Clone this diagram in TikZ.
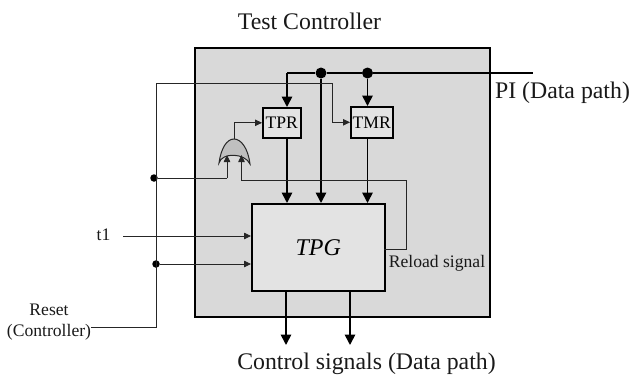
\documentclass[tikz,border=0pt]{standalone}
\usepackage{fontspec}
\setmainfont{Liberation Serif}
\usetikzlibrary{arrows.meta}
\definecolor{outerfill}{gray}{0.85}
\definecolor{innerfill}{gray}{0.89}
\definecolor{gatefill}{gray}{0.75}
\tikzset{
  blockbox/.style={draw=black,line width=1.6pt,inner sep=0pt,anchor=north west},
  busline/.style={draw=black,line width=1.7pt},
  busarrow/.style={busline,-{Triangle[length=10.5pt,width=10.5pt]}},
  wire/.style={draw=black!85,line width=0.8pt},
  wirearrow/.style={wire,-{Triangle[length=7pt,width=6.5pt]}},
  junction/.style={circle,fill=black,inner sep=0pt},
  lbl/.style={inner sep=0pt,text=black!90},
  smalltext/.style={font=\fontsize{17.6}{21.5}\selectfont},
  bigtext/.style={font=\fontsize{23.8}{27}\selectfont}
}
\begin{document}
\begin{tikzpicture}[x=1pt,y=-1pt]
\useasboundingbox (0,0) rectangle (629,375);
\node[blockbox,fill=outerfill,minimum width=295pt,minimum height=269pt] (outer) at (194,47) {};
\node[blockbox,fill=innerfill,minimum width=133pt,minimum height=87pt,font=\fontsize{24}{27}\selectfont\itshape] (tpg) at (251,203) {TPG};
\node[blockbox,fill=innerfill,minimum width=38pt,minimum height=30pt,smalltext] (tpr) at (262,107) {TPR};
\node[blockbox,fill=innerfill,minimum width=42pt,minimum height=31pt,smalltext] (tmr) at (350,106) {TMR};
% named points
\coordinate (pistart) at (287,73);
\node[junction,minimum size=11pt] (j1) at (321,73) {};
\node[junction,minimum size=11pt] (j2) at (367.5,73) {};
\coordinate (piend) at (533,73);
\node[junction,minimum size=7.5pt] (j3) at (154,178) {};
\node[junction,minimum size=7.5pt] (j4) at (156,264) {};
\coordinate (rtop) at (156,83);
\coordinate (rbot) at (156,327);
\coordinate (rc) at (332,83);
\coordinate (orout) at (234,139);
\coordinate (orl) at (227,155);
\coordinate (orr) at (241.5,155);
\coordinate (t1s) at (123,236);
\coordinate (o1s) at (286,290);
\coordinate (o1e) at (286,345);
\coordinate (o2s) at (350,290);
\coordinate (o2e) at (350,345);
\coordinate (rls) at (384,249);
\coordinate (rlc) at (406,249);
\coordinate (rld) at (406,180.5);
\coordinate (a3) at (241.5,180.5);
\coordinate (a1) at (227,178);
% OR gate
\draw[fill=gatefill,draw=black!85,line width=1pt] (219,163) .. controls (221,148) and (227,139) .. (orout) .. controls (241,139) and (248,148) .. (250,164) .. controls (245,153) and (222,152) .. cycle;
% bus
\draw[busline] (pistart) -- (j1) -- (j2) -- (piend);
\draw[busarrow] (pistart) -- (tpr.north -| pistart);
\draw[busarrow] (j1) -- (tpg.north -| j1);
\draw[busarrow] (j2) -- (tmr.north -| j2);
\draw[busarrow] (tpr.south -| pistart) -- (tpg.north -| pistart);
\draw[busarrow] (tmr.south -| j2) -- (tpg.north -| j2);
\draw[busarrow] (o1s) -- (o1e);
\draw[busarrow] (o2s) -- (o2e);
% wires
\node[lbl,smalltext,align=center] (reset) at (49,322) {Reset\\(Controller)};
\draw[wire] (reset.east |- rbot) -- (rbot) -- (rtop) -- (rc) -- (rc |- tmr.west) coordinate (rd);
\draw[wirearrow] (rd) -- (tmr.west);
\draw[wire] (j3) -- (a1);
\draw[wirearrow] (a1) -- (orl);
\draw[wire] (orout) -- (orout |- tpr.west) coordinate (a2);
\draw[wirearrow] (a2) -- (tpr.west);
\draw[wire] (rls) -- (rlc) -- (rld) -- (a3);
\draw[wirearrow] (a3) -- (orr);
\draw[wirearrow] (t1s) -- (tpg.west |- t1s);
\draw[wirearrow] (j4) -- (tpg.west |- j4);
% labels
\node[lbl,bigtext] (title) at (309.5,21.5) {Test Controller};
\node[lbl,bigtext] (pi) at (562.5,93) {PI (Data path)};
\node[lbl,bigtext] (ctrl) at (366.5,364) {Control signals (Data path)};
\node[lbl,smalltext] (rl) at (437,263) {Reload signal};
\node[lbl,smalltext] (t1) at (103.5,235) {t1};
\end{tikzpicture}
\end{document}
